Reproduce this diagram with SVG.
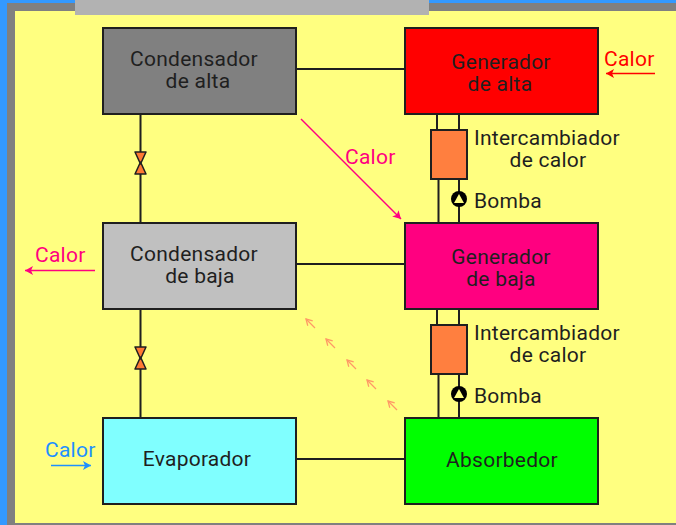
<svg xmlns="http://www.w3.org/2000/svg" width="676" height="525" viewBox="0 0 676 525">
<style>
.box{stroke:#1f1f1f;stroke-width:2}
.ln{stroke:#1f1f1f;stroke-width:2;fill:none}
text{font-family:Roboto,"Liberation Sans",Arial,sans-serif;font-size:21px;fill:#1f1f1f;letter-spacing:.25px}
.c{text-anchor:middle}
.heat{fill:none;stroke-width:1.5}
.v{fill:#ff7a33;stroke:#1f1f1f;stroke-width:1.5;stroke-linejoin:round}
</style>
<defs>
<marker id="ar" markerUnits="userSpaceOnUse" markerWidth="9" markerHeight="9" refX="8" refY="4.5" orient="auto"><path d="M0 0L8 4.500L0 9L2 4.500z" fill="#ff0000"/></marker>
<marker id="ap" markerUnits="userSpaceOnUse" markerWidth="9" markerHeight="9" refX="8" refY="4.5" orient="auto"><path d="M0 0L8 4.500L0 9L2 4.500z" fill="#ff0080"/></marker>
<marker id="ab" markerUnits="userSpaceOnUse" markerWidth="9" markerHeight="9" refX="8" refY="4.5" orient="auto"><path d="M0 0L8 4.500L0 9L2 4.500z" fill="#1e90ff"/></marker>
<marker id="ao" markerUnits="userSpaceOnUse" markerWidth="8" markerHeight="8" refX="7" refY="4" orient="auto"><path d="M1 .5L7 4L1 7.500" fill="none" stroke="#ff9a66" stroke-width="1.3"/></marker>
</defs>
<rect width="676" height="525" fill="#3399ff"/>
<rect x="7" y="3" width="669" height="522" fill="#808080"/>
<rect x="15" y="11" width="661" height="512" fill="#ffff80"/>
<rect x="75" y="0" width="354" height="15" fill="#b2b2b2"/>
<g id="connectors">
<path class="ln" d="M296 69H405M296 264H405M296 459H405"/>
<path class="ln" d="M140.500 114V223M140.500 309V418"/>
<path class="ln" d="M437 114V129M459 114V129M438.500 179V223M459 179V223"/>
<path class="ln" d="M437 309V324M459 309V324M438.500 374V418M459 374V418"/>
<path class="heat" stroke="#ff0000" marker-end="url(#ar)" d="M655 73.500H606"/>
<path class="heat" stroke="#ff0080" marker-end="url(#ap)" d="M301 119L401 219"/>
<path class="heat" stroke="#ff0080" marker-end="url(#ap)" d="M95 270.500H25"/>
<path class="heat" stroke="#1e90ff" marker-end="url(#ab)" d="M51 465.500H91"/>
<g class="heat" style="stroke:#ff9a66;stroke-width:1.3">
<path marker-end="url(#ao)" d="M315 328L306 319"/>
<path marker-end="url(#ao)" d="M335 348L326 339"/>
<path marker-end="url(#ao)" d="M356 369L347 360"/>
<path marker-end="url(#ao)" d="M376 389L367 380"/>
<path marker-end="url(#ao)" d="M397 410L388 401"/>
</g>
</g>
<g id="condensador-alta"><rect class="box" x="103" y="28" width="193" height="86" fill="#808080"/><text class="c" x="194" y="66">Condensador</text><text class="c" x="198" y="88">de alta</text></g>
<g id="generador-alta"><rect class="box" x="405" y="28" width="193" height="86" fill="#ff0000"/><text class="c" x="501" y="69">Generador</text><text class="c" x="500" y="91">de alta</text></g>
<g id="condensador-baja"><rect class="box" x="103" y="223" width="193" height="86" fill="#c0c0c0"/><text class="c" x="194" y="261">Condensador</text><text class="c" x="200" y="283">de baja</text></g>
<g id="generador-baja"><rect class="box" x="405" y="223" width="193" height="86" fill="#ff0080"/><text class="c" x="501" y="264">Generador</text><text class="c" x="501" y="286">de baja</text></g>
<g id="evaporador"><rect class="box" x="103" y="418" width="193" height="86" fill="#80ffff"/><text class="c" x="197" y="466">Evaporador</text></g>
<g id="absorbedor"><rect class="box" x="405" y="418" width="193" height="86" fill="#00ff00"/><text class="c" x="502" y="467">Absorbedor</text></g>
<g id="intercambiador-1"><rect class="box" x="431" y="130" width="36" height="49" fill="#ff7f3f"/><text x="474" y="145">Intercambiador</text><text class="c" x="548" y="167">de calor</text></g>
<g id="intercambiador-2"><rect class="box" x="431" y="325" width="36" height="49" fill="#ff7f3f"/><text x="474" y="340">Intercambiador</text><text class="c" x="548" y="362">de calor</text></g>
<g id="bomba-1"><circle cx="459" cy="199" r="8" fill="#000"/><path d="M459 194L464 203H454z" fill="#ffff80"/><text x="474" y="208">Bomba</text></g>
<g id="bomba-2"><circle cx="459" cy="394" r="8" fill="#000"/><path d="M459 389L464 398H454z" fill="#ffff80"/><text x="474" y="403">Bomba</text></g>
<g id="valvula-1"><path class="v" d="M135 152H146L140.500 164zM135 174H146L140.500 162z"/></g>
<g id="valvula-2"><path class="v" d="M135 347H146L140.500 359zM135 369H146L140.500 357z"/></g>
<text x="345" y="164" style="fill:#ff0080">Calor</text>
<text x="604" y="66" style="fill:#ff0000">Calor</text>
<text x="35" y="262" style="fill:#ff0080">Calor</text>
<text x="45" y="457" style="fill:#1e90ff">Calor</text>
</svg>
